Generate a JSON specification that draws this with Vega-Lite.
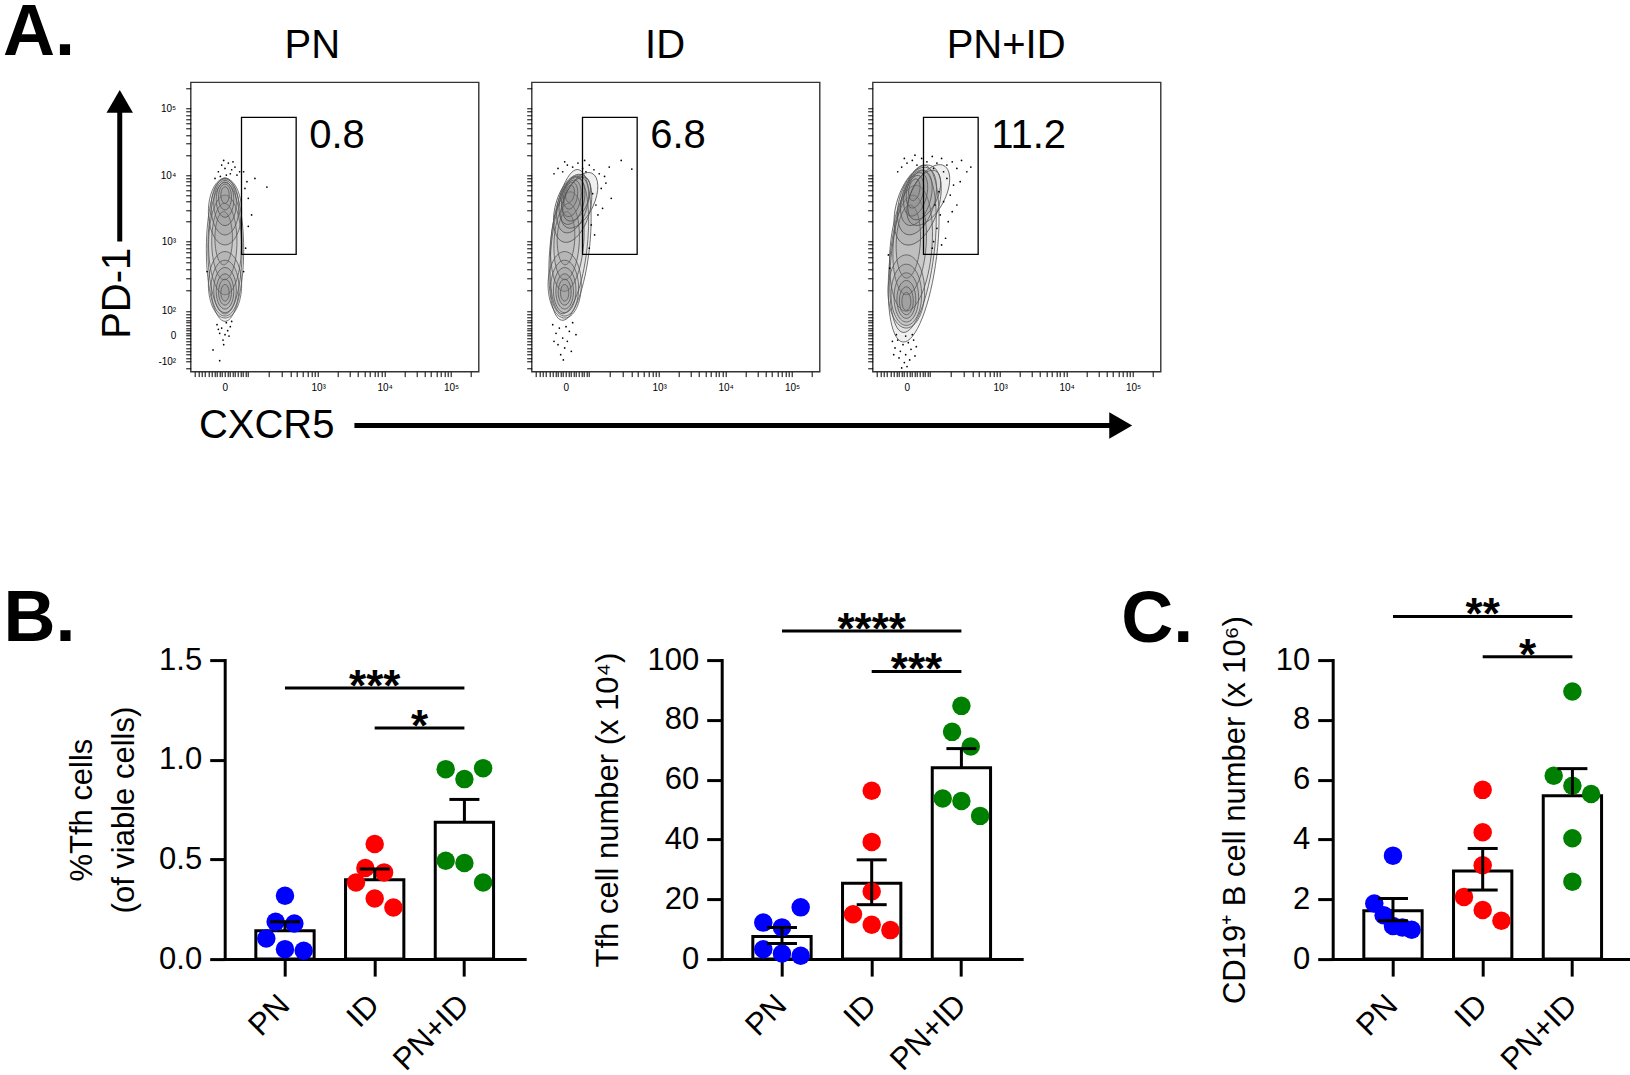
{
"$schema": "https://vega.github.io/schema/vega-lite/v6.json",
"background": "white",
"padding": {"left": 1.7, "top": -4.7, "right": 0, "bottom": 0},
"spacing": 134.8,
"config": {
  "view": {"stroke": null},
  "font": "Liberation Sans",
  "axis": {"grid": false, "domainColor": "black", "tickColor": "black", "labelColor": "black", "titleColor": "black", "labelFont": "Liberation Sans", "titleFont": "Liberation Sans", "titleFontWeight": "normal"},
  "text": {"font": "Liberation Sans", "color": "black"},
  "title": {"font": "Liberation Sans", "color": "black"}
},
"datasets": {
  "flow": [
    {"p":"PN","t":"g","x":1.848,"x2":2.67,"y":2.809,"y2":4.869,"pct":"0.8"},
    {"p":"ID","t":"g","x":1.848,"x2":2.67,"y":2.809,"y2":4.869,"pct":"6.8"},
    {"p":"PN+ID","t":"g","x":1.848,"x2":2.67,"y":2.809,"y2":4.869,"pct":"11.2"},

    {"p":"PN","t":"c","k":"o","x":1.60,"y":2.88,"h":2.16,"a":0},
    {"p":"PN","t":"c","k":"o","x":1.60,"y":2.90,"h":1.98,"a":0},
    {"p":"PN","t":"c","k":"m","x":1.60,"y":2.95,"h":1.5,"a":0},
    {"p":"PN","t":"c","k":"m","x":1.59,"y":3.0,"h":1.15,"a":0},
    {"p":"PN","t":"c","k":"m","x":1.58,"y":3.05,"h":0.8,"a":0},
    {"p":"PN","t":"c","k":"l","x":1.60,"y":3.45,"h":1.0,"a":0},
    {"p":"PN","t":"c","k":"l","x":1.60,"y":3.52,"h":0.84,"a":0},
    {"p":"PN","t":"c","k":"l","x":1.60,"y":3.58,"h":0.68,"a":0},
    {"p":"PN","t":"c","k":"l","x":1.60,"y":3.63,"h":0.53,"a":0},
    {"p":"PN","t":"c","k":"l","x":1.60,"y":3.67,"h":0.39,"a":0},
    {"p":"PN","t":"c","k":"l","x":1.60,"y":3.70,"h":0.25,"a":0},
    {"p":"PN","t":"c","k":"l","x":1.60,"y":2.35,"h":1.0,"a":0},
    {"p":"PN","t":"c","k":"l","x":1.60,"y":2.30,"h":0.84,"a":0},
    {"p":"PN","t":"c","k":"l","x":1.60,"y":2.27,"h":0.68,"a":0},
    {"p":"PN","t":"c","k":"l","x":1.60,"y":2.25,"h":0.53,"a":0},
    {"p":"PN","t":"c","k":"l","x":1.60,"y":2.24,"h":0.39,"a":0},
    {"p":"PN","t":"c","k":"l","x":1.60,"y":2.23,"h":0.25,"a":0},

    {"p":"ID","t":"c","k":"o","x":1.66,"y":2.95,"h":2.28,"a":6},
    {"p":"ID","t":"c","k":"o","x":1.65,"y":2.95,"h":2.08,"a":6},
    {"p":"ID","t":"c","k":"m","x":1.62,"y":3.0,"h":1.5,"a":4},
    {"p":"ID","t":"c","k":"m","x":1.61,"y":3.0,"h":1.15,"a":3},
    {"p":"ID","t":"c","k":"m","x":1.60,"y":3.05,"h":0.8,"a":2},
    {"p":"ID","t":"c","k":"l","x":1.70,"y":3.50,"h":1.05,"a":15},
    {"p":"ID","t":"c","k":"l","x":1.70,"y":3.56,"h":0.88,"a":15},
    {"p":"ID","t":"c","k":"l","x":1.69,"y":3.61,"h":0.72,"a":14},
    {"p":"ID","t":"c","k":"l","x":1.68,"y":3.65,"h":0.56,"a":12},
    {"p":"ID","t":"c","k":"l","x":1.67,"y":3.69,"h":0.41,"a":10},
    {"p":"ID","t":"c","k":"l","x":1.66,"y":3.72,"h":0.26,"a":8},
    {"p":"ID","t":"c","k":"l","x":1.80,"y":3.62,"h":0.9,"a":25},
    {"p":"ID","t":"c","k":"l","x":1.76,"y":3.64,"h":0.7,"a":22},
    {"p":"ID","t":"c","k":"l","x":1.58,"y":2.35,"h":1.0,"a":0},
    {"p":"ID","t":"c","k":"l","x":1.58,"y":2.30,"h":0.84,"a":0},
    {"p":"ID","t":"c","k":"l","x":1.58,"y":2.27,"h":0.68,"a":0},
    {"p":"ID","t":"c","k":"l","x":1.58,"y":2.25,"h":0.53,"a":0},
    {"p":"ID","t":"c","k":"l","x":1.58,"y":2.24,"h":0.39,"a":0},
    {"p":"ID","t":"c","k":"l","x":1.58,"y":2.23,"h":0.25,"a":0},

    {"p":"PN+ID","t":"c","k":"o","x":1.70,"y":2.82,"h":2.68,"a":7},
    {"p":"PN+ID","t":"c","k":"o","x":1.69,"y":2.85,"h":2.45,"a":7},
    {"p":"PN+ID","t":"c","k":"m","x":1.66,"y":2.9,"h":1.9,"a":5},
    {"p":"PN+ID","t":"c","k":"m","x":1.64,"y":2.95,"h":1.5,"a":4},
    {"p":"PN+ID","t":"c","k":"m","x":1.62,"y":3.0,"h":1.1,"a":3},
    {"p":"PN+ID","t":"c","k":"l","x":1.76,"y":3.55,"h":1.25,"a":18},
    {"p":"PN+ID","t":"c","k":"l","x":1.75,"y":3.61,"h":1.05,"a":17},
    {"p":"PN+ID","t":"c","k":"l","x":1.74,"y":3.66,"h":0.86,"a":16},
    {"p":"PN+ID","t":"c","k":"l","x":1.73,"y":3.71,"h":0.67,"a":14},
    {"p":"PN+ID","t":"c","k":"l","x":1.72,"y":3.75,"h":0.5,"a":12},
    {"p":"PN+ID","t":"c","k":"l","x":1.71,"y":3.78,"h":0.33,"a":10},
    {"p":"PN+ID","t":"c","k":"l","x":1.92,"y":3.70,"h":1.0,"a":28},
    {"p":"PN+ID","t":"c","k":"l","x":1.86,"y":3.70,"h":0.8,"a":25},
    {"p":"PN+ID","t":"c","k":"l","x":1.59,"y":2.25,"h":1.1,"a":0},
    {"p":"PN+ID","t":"c","k":"l","x":1.59,"y":2.20,"h":0.92,"a":0},
    {"p":"PN+ID","t":"c","k":"l","x":1.59,"y":2.16,"h":0.74,"a":0},
    {"p":"PN+ID","t":"c","k":"l","x":1.59,"y":2.13,"h":0.57,"a":0},
    {"p":"PN+ID","t":"c","k":"l","x":1.59,"y":2.11,"h":0.42,"a":0},
    {"p":"PN+ID","t":"c","k":"l","x":1.59,"y":2.10,"h":0.27,"a":0},

    {"p":"PN","t":"d","x":1.50,"y":4.05},{"p":"PN","t":"d","x":1.55,"y":4.15},{"p":"PN","t":"d","x":1.60,"y":4.10},
    {"p":"PN","t":"d","x":1.65,"y":4.18},{"p":"PN","t":"d","x":1.70,"y":4.08},{"p":"PN","t":"d","x":1.75,"y":4.12},
    {"p":"PN","t":"d","x":1.58,"y":4.22},{"p":"PN","t":"d","x":1.68,"y":4.02},{"p":"PN","t":"d","x":1.78,"y":4.00},
    {"p":"PN","t":"d","x":1.53,"y":3.98},{"p":"PN","t":"d","x":1.72,"y":4.20},{"p":"PN","t":"d","x":1.62,"y":4.00},
    {"p":"PN","t":"d","x":1.45,"y":3.95},{"p":"PN","t":"d","x":1.82,"y":4.05},
    {"p":"PN","t":"d","x":1.90,"y":3.80},{"p":"PN","t":"d","x":2.05,"y":3.95},{"p":"PN","t":"d","x":2.23,"y":3.82},
    {"p":"PN","t":"d","x":1.95,"y":3.65},{"p":"PN","t":"d","x":2.00,"y":3.40},{"p":"PN","t":"d","x":1.95,"y":3.23},
    {"p":"PN","t":"d","x":1.91,"y":2.90},{"p":"PN","t":"d","x":1.88,"y":4.05},{"p":"PN","t":"d","x":1.93,"y":3.90},
    {"p":"PN","t":"d","x":1.48,"y":1.75},{"p":"PN","t":"d","x":1.55,"y":1.70},{"p":"PN","t":"d","x":1.62,"y":1.78},
    {"p":"PN","t":"d","x":1.68,"y":1.72},{"p":"PN","t":"d","x":1.52,"y":1.62},{"p":"PN","t":"d","x":1.60,"y":1.60},
    {"p":"PN","t":"d","x":1.66,"y":1.58},{"p":"PN","t":"d","x":1.57,"y":1.52},{"p":"PN","t":"d","x":1.50,"y":1.68},
    {"p":"PN","t":"d","x":1.64,"y":1.66},{"p":"PN","t":"d","x":1.58,"y":1.45},{"p":"PN","t":"d","x":1.70,"y":1.80},
    {"p":"PN","t":"d","x":1.42,"y":1.37},{"p":"PN","t":"d","x":1.52,"y":1.21},{"p":"PN","t":"d","x":1.33,"y":2.55},
    {"p":"PN","t":"d","x":1.88,"y":2.55},

    {"p":"ID","t":"d","x":1.42,"y":4.02},{"p":"ID","t":"d","x":1.48,"y":4.10},{"p":"ID","t":"d","x":1.55,"y":4.05},
    {"p":"ID","t":"d","x":1.62,"y":4.15},{"p":"ID","t":"d","x":1.70,"y":4.12},{"p":"ID","t":"d","x":1.78,"y":4.18},
    {"p":"ID","t":"d","x":1.85,"y":4.10},{"p":"ID","t":"d","x":1.90,"y":4.05},{"p":"ID","t":"d","x":1.95,"y":4.15},
    {"p":"ID","t":"d","x":2.02,"y":4.08},{"p":"ID","t":"d","x":2.10,"y":4.02},{"p":"ID","t":"d","x":2.18,"y":3.98},
    {"p":"ID","t":"d","x":2.25,"y":4.12},{"p":"ID","t":"d","x":1.58,"y":4.20},{"p":"ID","t":"d","x":1.88,"y":4.22},
    {"p":"ID","t":"d","x":2.43,"y":4.22},{"p":"ID","t":"d","x":2.59,"y":4.09},
    {"p":"ID","t":"d","x":2.13,"y":3.80},{"p":"ID","t":"d","x":2.28,"y":3.65},{"p":"ID","t":"d","x":2.08,"y":3.40},
    {"p":"ID","t":"d","x":2.03,"y":3.10},{"p":"ID","t":"d","x":1.95,"y":2.90},{"p":"ID","t":"d","x":2.05,"y":3.55},
    {"p":"ID","t":"d","x":2.15,"y":3.50},{"p":"ID","t":"d","x":1.98,"y":3.25},{"p":"ID","t":"d","x":2.00,"y":3.72},
    {"p":"ID","t":"d","x":2.20,"y":3.88},
    {"p":"ID","t":"d","x":1.40,"y":1.75},{"p":"ID","t":"d","x":1.45,"y":1.62},{"p":"ID","t":"d","x":1.50,"y":1.70},
    {"p":"ID","t":"d","x":1.55,"y":1.55},{"p":"ID","t":"d","x":1.60,"y":1.72},{"p":"ID","t":"d","x":1.65,"y":1.65},
    {"p":"ID","t":"d","x":1.70,"y":1.78},{"p":"ID","t":"d","x":1.48,"y":1.45},{"p":"ID","t":"d","x":1.58,"y":1.40},
    {"p":"ID","t":"d","x":1.52,"y":1.30},{"p":"ID","t":"d","x":1.62,"y":1.50},{"p":"ID","t":"d","x":1.68,"y":1.35},
    {"p":"ID","t":"d","x":1.56,"y":1.22},{"p":"ID","t":"d","x":1.42,"y":1.50},{"p":"ID","t":"d","x":1.75,"y":1.60},

    {"p":"PN+ID","t":"d","x":1.46,"y":4.05},{"p":"PN+ID","t":"d","x":1.52,"y":4.12},{"p":"PN+ID","t":"d","x":1.60,"y":4.18},
    {"p":"PN+ID","t":"d","x":1.68,"y":4.22},{"p":"PN+ID","t":"d","x":1.75,"y":4.15},{"p":"PN+ID","t":"d","x":1.82,"y":4.25},
    {"p":"PN+ID","t":"d","x":1.90,"y":4.20},{"p":"PN+ID","t":"d","x":1.98,"y":4.28},{"p":"PN+ID","t":"d","x":2.05,"y":4.18},
    {"p":"PN+ID","t":"d","x":2.12,"y":4.25},{"p":"PN+ID","t":"d","x":2.20,"y":4.15},{"p":"PN+ID","t":"d","x":2.28,"y":4.20},
    {"p":"PN+ID","t":"d","x":2.35,"y":4.10},{"p":"PN+ID","t":"d","x":2.42,"y":4.22},{"p":"PN+ID","t":"d","x":2.50,"y":4.05},
    {"p":"PN+ID","t":"d","x":2.56,"y":4.12},{"p":"PN+ID","t":"d","x":1.56,"y":4.25},{"p":"PN+ID","t":"d","x":2.00,"y":4.10},
    {"p":"PN+ID","t":"d","x":2.15,"y":4.05},{"p":"PN+ID","t":"d","x":1.72,"y":4.30},
    {"p":"PN+ID","t":"d","x":2.20,"y":3.95},{"p":"PN+ID","t":"d","x":2.30,"y":3.85},{"p":"PN+ID","t":"d","x":2.25,"y":3.70},
    {"p":"PN+ID","t":"d","x":2.15,"y":3.60},{"p":"PN+ID","t":"d","x":2.35,"y":3.55},{"p":"PN+ID","t":"d","x":2.10,"y":3.40},
    {"p":"PN+ID","t":"d","x":2.22,"y":3.30},{"p":"PN+ID","t":"d","x":2.05,"y":3.20},{"p":"PN+ID","t":"d","x":2.18,"y":3.05},
    {"p":"PN+ID","t":"d","x":2.00,"y":3.00},{"p":"PN+ID","t":"d","x":1.98,"y":2.90},{"p":"PN+ID","t":"d","x":2.12,"y":2.95},
    {"p":"PN+ID","t":"d","x":2.40,"y":3.90},{"p":"PN+ID","t":"d","x":2.28,"y":3.45},{"p":"PN+ID","t":"d","x":2.08,"y":3.75},
    {"p":"PN+ID","t":"d","x":2.02,"y":3.55},
    {"p":"PN+ID","t":"d","x":1.38,"y":1.50},{"p":"PN+ID","t":"d","x":1.42,"y":1.40},{"p":"PN+ID","t":"d","x":1.46,"y":1.52},
    {"p":"PN+ID","t":"d","x":1.50,"y":1.35},{"p":"PN+ID","t":"d","x":1.54,"y":1.45},{"p":"PN+ID","t":"d","x":1.58,"y":1.30},
    {"p":"PN+ID","t":"d","x":1.62,"y":1.48},{"p":"PN+ID","t":"d","x":1.66,"y":1.38},{"p":"PN+ID","t":"d","x":1.70,"y":1.52},
    {"p":"PN+ID","t":"d","x":1.74,"y":1.42},{"p":"PN+ID","t":"d","x":1.48,"y":1.25},{"p":"PN+ID","t":"d","x":1.56,"y":1.18},
    {"p":"PN+ID","t":"d","x":1.64,"y":1.22},{"p":"PN+ID","t":"d","x":1.52,"y":1.10},{"p":"PN+ID","t":"d","x":1.60,"y":1.12},
    {"p":"PN+ID","t":"d","x":1.44,"y":1.60},{"p":"PN+ID","t":"d","x":1.68,"y":1.60},{"p":"PN+ID","t":"d","x":1.58,"y":1.58},
    {"p":"PN+ID","t":"d","x":1.72,"y":1.28},{"p":"PN+ID","t":"d","x":1.40,"y":1.30},
    {"p":"PN+ID","t":"d","x":1.32,"y":2.80},{"p":"PN+ID","t":"d","x":1.34,"y":2.60}
  ],
  "pts": [
    {"m":"pct","g":"PN","v":0.318,"c":0},{"m":"pct","g":"PN","v":0.187,"c":-0.5},{"m":"pct","g":"PN","v":0.179,"c":0.5},
    {"m":"pct","g":"PN","v":0.103,"c":-1},{"m":"pct","g":"PN","v":0.050,"c":0},{"m":"pct","g":"PN","v":0.042,"c":1},
    {"m":"pct","g":"ID","v":0.577,"c":0},{"m":"pct","g":"ID","v":0.457,"c":-0.5},{"m":"pct","g":"ID","v":0.435,"c":0.5},
    {"m":"pct","g":"ID","v":0.384,"c":-1},{"m":"pct","g":"ID","v":0.304,"c":0},{"m":"pct","g":"ID","v":0.259,"c":1},
    {"m":"pct","g":"PN+ID","v":0.953,"c":-1},{"m":"pct","g":"PN+ID","v":0.903,"c":0},{"m":"pct","g":"PN+ID","v":0.958,"c":1},
    {"m":"pct","g":"PN+ID","v":0.493,"c":-1},{"m":"pct","g":"PN+ID","v":0.482,"c":0},{"m":"pct","g":"PN+ID","v":0.384,"c":1},
    {"m":"num","g":"PN","v":17.3,"c":1},{"m":"num","g":"PN","v":12.2,"c":-1},{"m":"num","g":"PN","v":10.6,"c":0},
    {"m":"num","g":"PN","v":3.3,"c":-1},{"m":"num","g":"PN","v":1.9,"c":0},{"m":"num","g":"PN","v":1.1,"c":1},
    {"m":"num","g":"ID","v":56.3,"c":0},{"m":"num","g":"ID","v":39.2,"c":0},{"m":"num","g":"ID","v":22.6,"c":0},
    {"m":"num","g":"ID","v":15.0,"c":-1},{"m":"num","g":"ID","v":11.5,"c":0},{"m":"num","g":"ID","v":9.7,"c":1},
    {"m":"num","g":"PN+ID","v":84.7,"c":0},{"m":"num","g":"PN+ID","v":76.0,"c":-0.5},{"m":"num","g":"PN+ID","v":71.1,"c":0.5},
    {"m":"num","g":"PN+ID","v":53.7,"c":-1},{"m":"num","g":"PN+ID","v":52.9,"c":0},{"m":"num","g":"PN+ID","v":47.9,"c":1},
    {"m":"cd19","g":"PN","v":3.46,"c":0},{"m":"cd19","g":"PN","v":1.86,"c":-1},{"m":"cd19","g":"PN","v":1.47,"c":-0.5},
    {"m":"cd19","g":"PN","v":1.11,"c":0},{"m":"cd19","g":"PN","v":1.06,"c":0.5},{"m":"cd19","g":"PN","v":0.98,"c":1},
    {"m":"cd19","g":"ID","v":5.66,"c":0},{"m":"cd19","g":"ID","v":4.24,"c":0},{"m":"cd19","g":"ID","v":3.14,"c":0},
    {"m":"cd19","g":"ID","v":2.08,"c":-1},{"m":"cd19","g":"ID","v":1.64,"c":0},{"m":"cd19","g":"ID","v":1.28,"c":1},
    {"m":"cd19","g":"PN+ID","v":8.95,"c":0},{"m":"cd19","g":"PN+ID","v":6.13,"c":-1},{"m":"cd19","g":"PN+ID","v":5.80,"c":0},
    {"m":"cd19","g":"PN+ID","v":5.52,"c":1},{"m":"cd19","g":"PN+ID","v":4.04,"c":0},{"m":"cd19","g":"PN+ID","v":2.59,"c":0}
  ],
  "bars": [
    {"m":"pct","g":"PN","mean":0.142,"lo":0.142,"hi":0.187,"lc":false},
    {"m":"pct","g":"ID","mean":0.398,"lo":0.398,"hi":0.452,"lc":false},
    {"m":"pct","g":"PN+ID","mean":0.686,"lo":0.686,"hi":0.801,"lc":false},
    {"m":"num","g":"PN","mean":7.57,"lo":5.23,"hi":10.57,"lc":true},
    {"m":"num","g":"ID","mean":25.4,"lo":18.2,"hi":33.2,"lc":true},
    {"m":"num","g":"PN+ID","mean":64.0,"lo":64.0,"hi":70.4,"lc":false},
    {"m":"cd19","g":"PN","mean":1.62,"lo":1.28,"hi":2.03,"lc":true},
    {"m":"cd19","g":"ID","mean":2.95,"lo":2.31,"hi":3.70,"lc":true},
    {"m":"cd19","g":"PN+ID","mean":5.46,"lo":5.46,"hi":6.37,"lc":false}
  ],
  "sig": [
    {"m":"pct","a":"PN","b":"PN+ID","y":1.36,"s":"***","f":"full"},
    {"m":"pct","a":"ID","b":"PN+ID","y":1.159,"s":"*","f":"half"},
    {"m":"num","a":"PN","b":"PN+ID","y":109.7,"s":"****","f":"full"},
    {"m":"num","a":"ID","b":"PN+ID","y":96.2,"s":"***","f":"half"},
    {"m":"cd19","a":"PN","b":"PN+ID","y":11.46,"s":"**","f":"full"},
    {"m":"cd19","a":"ID","b":"PN+ID","y":10.11,"s":"*","f":"half"}
  ]
},
"vconcat": [
  {"hconcat": [
    {
      "width": 288, "height": 289.3,
      "view": {"stroke": "#333333", "strokeWidth": 1.4},
      "data": {"name": "flow"},
      "transform": [{"filter": "datum.p === 'PN'"}],
      "encoding": {
        "x": {"field": "x", "type": "quantitative", "scale": {"domain": [1.084, 5.415], "nice": false, "zero": false},
          "axis": {"title": null, "domain": false, "tickSize": 5, "tickWidth": 1, "labelFontSize": 10, "labelPadding": 6, "labelOverlap": false, "labelFlush": false, "labelBound": false,
            "values": [1.15,1.2,1.25,1.3,1.35,1.4,1.44,1.48,1.52,1.555,1.596,1.635,1.67,1.71,1.75,1.79,1.83,1.87,1.91,1.947,2.264,2.449,2.581,2.683,2.767,2.837,2.898,2.951,3,3.301,3.477,3.602,3.699,3.778,3.845,3.903,3.954,4,4.301,4.477,4.602,4.699,4.778,4.845,4.903,4.954,5,5.301],
            "labelExpr": "datum.value == 1.596 ? '0' : datum.value == 3 ? '10³' : datum.value == 4 ? '10⁴' : datum.value == 5 ? '10⁵' : ''"}},
        "y": {"field": "y", "type": "quantitative", "scale": {"domain": [1.045, 5.395], "nice": false, "zero": false},
          "axis": {"title": null, "domain": false, "tickSize": 5, "tickWidth": 1, "labelFontSize": 10, "labelPadding": 10, "labelOverlap": false, "labelFlush": false, "labelBound": false,
            "values": [1.1,1.195,1.25,1.3,1.35,1.4,1.45,1.5,1.55,1.586,1.62,1.66,1.7,1.74,1.78,1.82,1.86,1.9,1.958,2.272,2.455,2.585,2.686,2.769,2.838,2.899,2.952,3,3.301,3.477,3.602,3.699,3.778,3.845,3.903,3.954,4,4.301,4.477,4.602,4.699,4.778,4.845,4.903,4.954,5,5.301],
            "labelExpr": "datum.value == 5 ? '10⁵' : datum.value == 4 ? '10⁴' : datum.value == 3 ? '10³' : datum.value == 1.958 ? '10²' : datum.value == 1.586 ? '0' : datum.value == 1.195 ? '-10²' : ''"}}
      },
      "layer": [
        {"transform": [{"filter": "datum.t === 'c'"}],
         "mark": {"type": "point", "filled": true, "fill": "#7a7a7a", "fillOpacity": 0.12, "stroke": "#555555", "strokeWidth": 0.8, "opacity": 1},
         "encoding": {
           "shape": {"field": "k", "type": "nominal", "legend": null, "scale": {"domain": ["o","m","l"], "range": [
             "M0,-1C0.144,-1,0.26,-0.552,0.26,0C0.26,0.552,0.144,1,0,1C-0.144,1,-0.26,0.552,-0.26,0C-0.26,-0.552,-0.144,-1,0,-1Z",
             "M0,-1C0.182,-1,0.33,-0.552,0.33,0C0.33,0.552,0.182,1,0,1C-0.182,1,-0.33,0.552,-0.33,0C-0.33,-0.552,-0.182,-1,0,-1Z",
             "M0,-1C0.276,-1,0.5,-0.552,0.5,0C0.5,0.552,0.276,1,0,1C-0.276,1,-0.5,0.552,-0.5,0C-0.5,-0.552,-0.276,-1,0,-1Z"]}},
           "size": {"field": "h", "type": "quantitative", "legend": null, "scale": {"type": "pow", "exponent": 2, "domain": [0, 1], "range": [0, 4422]}},
           "angle": {"field": "a", "type": "quantitative", "scale": null}
         }},
        {"transform": [{"filter": "datum.t === 'd'"}], "mark": {"type": "point", "filled": true, "size": 3, "color": "black", "opacity": 1}},
        {"transform": [{"filter": "datum.t === 'g'"}], "mark": {"type": "rect", "fill": "white", "fillOpacity": 0, "stroke": "black", "strokeWidth": 1.3},
         "encoding": {"x2": {"field": "x2"}, "y2": {"field": "y2"}}},
        {"transform": [{"filter": "datum.t === 'g'"}], "mark": {"type": "text", "fontSize": 40, "align": "left", "baseline": "middle", "dx": 13, "dy": 19},
         "encoding": {"x": {"field": "x2", "type": "quantitative"}, "y": {"field": "y2", "type": "quantitative"}, "text": {"field": "pct"}}},
        {"transform": [{"filter": "datum.t === 'g'"}], "mark": {"type": "text", "fontSize": 40, "align": "center", "baseline": "alphabetic"},
         "encoding": {"x": {"datum": 2.914, "type": "quantitative"}, "y": {"datum": 5.767, "type": "quantitative"}, "text": {"field": "p"}}},
        {"transform": [{"filter": "datum.t === 'g'"}], "mark": {"type": "text", "fontSize": 72, "fontWeight": "bold", "align": "left", "baseline": "alphabetic"},
         "encoding": {"x": {"datum": -1.737, "type": "quantitative"}, "y": {"datum": 5.808, "type": "quantitative"}, "text": {"value": "A."}}},
        {"transform": [{"filter": "datum.t === 'g'"}], "mark": {"type": "text", "fontSize": 40, "angle": 270, "align": "center", "baseline": "middle"},
         "encoding": {"x": {"datum": -0.008, "type": "quantitative"}, "y": {"datum": 2.223, "type": "quantitative"}, "text": {"value": "PD-1"}}},
        {"transform": [{"filter": "datum.t === 'g'"}], "mark": {"type": "rule", "strokeWidth": 5, "color": "black"},
         "encoding": {"x": {"datum": 0.017, "type": "quantitative"}, "y": {"datum": 3.0, "type": "quantitative"}, "y2": {"datum": 5.06}}},
        {"transform": [{"filter": "datum.t === 'g'"}], "mark": {"type": "point", "shape": "triangle-up", "size": 700, "filled": true, "color": "black", "opacity": 1},
         "encoding": {"x": {"datum": 0.017, "type": "quantitative"}, "y": {"datum": 5.108, "type": "quantitative"}}},
        {"transform": [{"filter": "datum.t === 'g'"}], "mark": {"type": "text", "fontSize": 40, "align": "left", "baseline": "middle"},
         "encoding": {"x": {"datum": 1.208, "type": "quantitative"}, "y": {"datum": 0.233, "type": "quantitative"}, "text": {"value": "CXCR5"}}},
        {"transform": [{"filter": "datum.t === 'g'"}], "mark": {"type": "rule", "strokeWidth": 5, "color": "black"},
         "encoding": {"x": {"datum": 3.546, "type": "quantitative"}, "x2": {"datum": 15.0}, "y": {"datum": 0.233, "type": "quantitative"}}},
        {"transform": [{"filter": "datum.t === 'g'"}], "mark": {"type": "point", "shape": "triangle-right", "size": 700, "filled": true, "color": "black", "opacity": 1},
         "encoding": {"x": {"datum": 15.07, "type": "quantitative"}, "y": {"datum": 0.233, "type": "quantitative"}}}
      ]
    },
    {
      "width": 288, "height": 289.3,
      "view": {"stroke": "#333333", "strokeWidth": 1.4},
      "data": {"name": "flow"},
      "transform": [{"filter": "datum.p === 'ID'"}],
      "encoding": {
        "x": {"field": "x", "type": "quantitative", "scale": {"domain": [1.084, 5.415], "nice": false, "zero": false},
          "axis": {"title": null, "domain": false, "tickSize": 5, "tickWidth": 1, "labelFontSize": 10, "labelPadding": 6, "labelOverlap": false, "labelFlush": false, "labelBound": false,
            "values": [1.15,1.2,1.25,1.3,1.35,1.4,1.44,1.48,1.52,1.555,1.596,1.635,1.67,1.71,1.75,1.79,1.83,1.87,1.91,1.947,2.264,2.449,2.581,2.683,2.767,2.837,2.898,2.951,3,3.301,3.477,3.602,3.699,3.778,3.845,3.903,3.954,4,4.301,4.477,4.602,4.699,4.778,4.845,4.903,4.954,5,5.301],
            "labelExpr": "datum.value == 1.596 ? '0' : datum.value == 3 ? '10³' : datum.value == 4 ? '10⁴' : datum.value == 5 ? '10⁵' : ''"}},
        "y": {"field": "y", "type": "quantitative", "scale": {"domain": [1.045, 5.395], "nice": false, "zero": false},
          "axis": {"title": null, "domain": false, "tickSize": 5, "tickWidth": 1, "labels": false,
            "values": [1.1,1.195,1.25,1.3,1.35,1.4,1.45,1.5,1.55,1.586,1.62,1.66,1.7,1.74,1.78,1.82,1.86,1.9,1.958,2.272,2.455,2.585,2.686,2.769,2.838,2.899,2.952,3,3.301,3.477,3.602,3.699,3.778,3.845,3.903,3.954,4,4.301,4.477,4.602,4.699,4.778,4.845,4.903,4.954,5,5.301]}}
      },
      "layer": [
        {"transform": [{"filter": "datum.t === 'c'"}],
         "mark": {"type": "point", "filled": true, "fill": "#7a7a7a", "fillOpacity": 0.12, "stroke": "#555555", "strokeWidth": 0.8, "opacity": 1},
         "encoding": {
           "shape": {"field": "k", "type": "nominal", "legend": null, "scale": {"domain": ["o","m","l"], "range": [
             "M0,-1C0.144,-1,0.26,-0.552,0.26,0C0.26,0.552,0.144,1,0,1C-0.144,1,-0.26,0.552,-0.26,0C-0.26,-0.552,-0.144,-1,0,-1Z",
             "M0,-1C0.182,-1,0.33,-0.552,0.33,0C0.33,0.552,0.182,1,0,1C-0.182,1,-0.33,0.552,-0.33,0C-0.33,-0.552,-0.182,-1,0,-1Z",
             "M0,-1C0.276,-1,0.5,-0.552,0.5,0C0.5,0.552,0.276,1,0,1C-0.276,1,-0.5,0.552,-0.5,0C-0.5,-0.552,-0.276,-1,0,-1Z"]}},
           "size": {"field": "h", "type": "quantitative", "legend": null, "scale": {"type": "pow", "exponent": 2, "domain": [0, 1], "range": [0, 4422]}},
           "angle": {"field": "a", "type": "quantitative", "scale": null}
         }},
        {"transform": [{"filter": "datum.t === 'd'"}], "mark": {"type": "point", "filled": true, "size": 3, "color": "black", "opacity": 1}},
        {"transform": [{"filter": "datum.t === 'g'"}], "mark": {"type": "rect", "fill": "white", "fillOpacity": 0, "stroke": "black", "strokeWidth": 1.3},
         "encoding": {"x2": {"field": "x2"}, "y2": {"field": "y2"}}},
        {"transform": [{"filter": "datum.t === 'g'"}], "mark": {"type": "text", "fontSize": 40, "align": "left", "baseline": "middle", "dx": 13, "dy": 19},
         "encoding": {"x": {"field": "x2", "type": "quantitative"}, "y": {"field": "y2", "type": "quantitative"}, "text": {"field": "pct"}}},
        {"transform": [{"filter": "datum.t === 'g'"}], "mark": {"type": "text", "fontSize": 40, "align": "center", "baseline": "alphabetic"},
         "encoding": {"x": {"datum": 3.09, "type": "quantitative"}, "y": {"datum": 5.767, "type": "quantitative"}, "text": {"field": "p"}}}
      ]
    },
    {
      "width": 288, "height": 289.3,
      "view": {"stroke": "#333333", "strokeWidth": 1.4},
      "data": {"name": "flow"},
      "transform": [{"filter": "datum.p === 'PN+ID'"}],
      "encoding": {
        "x": {"field": "x", "type": "quantitative", "scale": {"domain": [1.084, 5.415], "nice": false, "zero": false},
          "axis": {"title": null, "domain": false, "tickSize": 5, "tickWidth": 1, "labelFontSize": 10, "labelPadding": 6, "labelOverlap": false, "labelFlush": false, "labelBound": false,
            "values": [1.15,1.2,1.25,1.3,1.35,1.4,1.44,1.48,1.52,1.555,1.596,1.635,1.67,1.71,1.75,1.79,1.83,1.87,1.91,1.947,2.264,2.449,2.581,2.683,2.767,2.837,2.898,2.951,3,3.301,3.477,3.602,3.699,3.778,3.845,3.903,3.954,4,4.301,4.477,4.602,4.699,4.778,4.845,4.903,4.954,5,5.301],
            "labelExpr": "datum.value == 1.596 ? '0' : datum.value == 3 ? '10³' : datum.value == 4 ? '10⁴' : datum.value == 5 ? '10⁵' : ''"}},
        "y": {"field": "y", "type": "quantitative", "scale": {"domain": [1.045, 5.395], "nice": false, "zero": false},
          "axis": {"title": null, "domain": false, "tickSize": 5, "tickWidth": 1, "labels": false,
            "values": [1.1,1.195,1.25,1.3,1.35,1.4,1.45,1.5,1.55,1.586,1.62,1.66,1.7,1.74,1.78,1.82,1.86,1.9,1.958,2.272,2.455,2.585,2.686,2.769,2.838,2.899,2.952,3,3.301,3.477,3.602,3.699,3.778,3.845,3.903,3.954,4,4.301,4.477,4.602,4.699,4.778,4.845,4.903,4.954,5,5.301]}}
      },
      "layer": [
        {"transform": [{"filter": "datum.t === 'c'"}],
         "mark": {"type": "point", "filled": true, "fill": "#7a7a7a", "fillOpacity": 0.12, "stroke": "#555555", "strokeWidth": 0.8, "opacity": 1},
         "encoding": {
           "shape": {"field": "k", "type": "nominal", "legend": null, "scale": {"domain": ["o","m","l"], "range": [
             "M0,-1C0.144,-1,0.26,-0.552,0.26,0C0.26,0.552,0.144,1,0,1C-0.144,1,-0.26,0.552,-0.26,0C-0.26,-0.552,-0.144,-1,0,-1Z",
             "M0,-1C0.182,-1,0.33,-0.552,0.33,0C0.33,0.552,0.182,1,0,1C-0.182,1,-0.33,0.552,-0.33,0C-0.33,-0.552,-0.182,-1,0,-1Z",
             "M0,-1C0.276,-1,0.5,-0.552,0.5,0C0.5,0.552,0.276,1,0,1C-0.276,1,-0.5,0.552,-0.5,0C-0.5,-0.552,-0.276,-1,0,-1Z"]}},
           "size": {"field": "h", "type": "quantitative", "legend": null, "scale": {"type": "pow", "exponent": 2, "domain": [0, 1], "range": [0, 4422]}},
           "angle": {"field": "a", "type": "quantitative", "scale": null}
         }},
        {"transform": [{"filter": "datum.t === 'd'"}], "mark": {"type": "point", "filled": true, "size": 3, "color": "black", "opacity": 1}},
        {"transform": [{"filter": "datum.t === 'g'"}], "mark": {"type": "rect", "fill": "white", "fillOpacity": 0, "stroke": "black", "strokeWidth": 1.3},
         "encoding": {"x2": {"field": "x2"}, "y2": {"field": "y2"}}},
        {"transform": [{"filter": "datum.t === 'g'"}], "mark": {"type": "text", "fontSize": 40, "align": "left", "baseline": "middle", "dx": 13, "dy": 19},
         "encoding": {"x": {"field": "x2", "type": "quantitative"}, "y": {"field": "y2", "type": "quantitative"}, "text": {"field": "pct"}}},
        {"transform": [{"filter": "datum.t === 'g'"}], "mark": {"type": "text", "fontSize": 40, "align": "center", "baseline": "alphabetic"},
         "encoding": {"x": {"datum": 3.09, "type": "quantitative"}, "y": {"datum": 5.767, "type": "quantitative"}, "text": {"field": "p"}}}
      ]
    }
  ], "spacing": 53, "bounds": "flush"},
  {"hconcat": [
    {"width": 33.4, "height": 10, "data": {"values": [{"z": 0}]}, "mark": {"type": "point", "opacity": 0}, "encoding": {}},
    {
      "width": 300, "height": 299,
      "resolve": {"scale": {"xOffset": "independent"}},
      "layer": [
        {"data": {"name": "bars"}, "transform": [{"filter": "datum.m === 'pct'"}],
         "mark": {"type": "bar", "fill": "white", "stroke": "black", "strokeWidth": 3},
         "encoding": {
           "x": {"field": "g", "type": "nominal", "scale": {"type": "band", "domain": ["PN","ID","PN+ID"], "paddingInner": 0.35, "paddingOuter": 0.347},
             "axis": {"title": null, "labelAngle": -45, "labelAlign": "right", "labelBaseline": "middle", "labelFontSize": 31, "labelPadding": 24, "labelOffset": 0, "tickSize": 17, "tickWidth": 3, "domainWidth": 3, "domainCap": "square"}},
           "y": {"field": "mean", "type": "quantitative", "scale": {"domain": [0, 1.5], "nice": false},
             "axis": {"title": ["%Tfh cells", "(of viable cells)"], "values": [0, 0.5, 1, 1.5], "format": ".1f", "labelFontSize": 31, "labelPadding": 8, "tickSize": 15, "tickWidth": 3, "domainWidth": 3, "domainCap": "square", "titleFontSize": 31, "titleLineHeight": 42, "titlePadding": 18}}
         }},
        {"data": {"name": "pts"}, "transform": [{"filter": "datum.m === 'pct'"}],
         "mark": {"type": "point", "filled": true, "opacity": 1},
         "encoding": {
           "x": {"field": "g", "type": "nominal", "scale": {"type": "band", "domain": ["PN","ID","PN+ID"], "paddingInner": 0.35, "paddingOuter": 0.347}},
           "xOffset": {"field": "c", "type": "quantitative", "scale": {"domain": [-1.559, 1.559], "nice": false, "zero": false}},
           "y": {"field": "v", "type": "quantitative"},
           "color": {"field": "g", "type": "nominal", "scale": {"domain": ["PN","ID","PN+ID"], "range": ["#0000ff","#ff0000","#008000"]}, "legend": null},
           "size": {"field": "g", "type": "ordinal", "scale": {"domain": ["PN","ID","PN+ID"], "range": [342, 342, 552]}, "legend": null}
         }},
        {"data": {"name": "bars"}, "transform": [{"filter": "datum.m === 'pct'"}],
         "mark": {"type": "rule", "strokeWidth": 3, "color": "black"},
         "encoding": {"x": {"field": "g", "type": "nominal", "scale": {"type": "band", "domain": ["PN","ID","PN+ID"], "paddingInner": 0.35, "paddingOuter": 0.347}}, "y": {"field": "lo", "type": "quantitative"}, "y2": {"field": "hi"}}},
        {"data": {"name": "bars"}, "transform": [{"filter": "datum.m === 'pct'"}],
         "mark": {"type": "tick", "size": 30, "thickness": 3, "color": "black", "opacity": 1},
         "encoding": {"x": {"field": "g", "type": "nominal", "scale": {"type": "band", "domain": ["PN","ID","PN+ID"], "paddingInner": 0.35, "paddingOuter": 0.347}}, "y": {"field": "hi", "type": "quantitative"}}},
        {"data": {"name": "bars"}, "transform": [{"filter": "datum.m === 'pct' && datum.lc"}],
         "mark": {"type": "tick", "size": 30, "thickness": 3, "color": "black", "opacity": 1},
         "encoding": {"x": {"field": "g", "type": "nominal", "scale": {"type": "band", "domain": ["PN","ID","PN+ID"], "paddingInner": 0.35, "paddingOuter": 0.347}}, "y": {"field": "lo", "type": "quantitative"}}},
        {"data": {"name": "sig"}, "transform": [{"filter": "datum.m === 'pct'"}],
         "mark": {"type": "rule", "strokeWidth": 3, "color": "black"},
         "encoding": {"x": {"field": "a", "type": "nominal", "scale": {"type": "band", "domain": ["PN","ID","PN+ID"], "paddingInner": 0.35, "paddingOuter": 0.347}}, "x2": {"field": "b"}, "y": {"field": "y", "type": "quantitative"}}},
        {"data": {"name": "sig"}, "transform": [{"filter": "datum.m === 'pct' && datum.f === 'full'"}],
         "mark": {"type": "text", "fontSize": 44, "fontWeight": "bold", "align": "center", "baseline": "alphabetic", "dy": 13},
         "encoding": {"x": {"field": "a", "type": "nominal", "bandPosition": 2.039, "scale": {"type": "band", "domain": ["PN","ID","PN+ID"], "paddingInner": 0.35, "paddingOuter": 0.347}}, "y": {"field": "y", "type": "quantitative"}, "text": {"field": "s"}}},
        {"data": {"name": "sig"}, "transform": [{"filter": "datum.m === 'pct' && datum.f === 'half'"}],
         "mark": {"type": "text", "fontSize": 44, "fontWeight": "bold", "align": "center", "baseline": "alphabetic", "dy": 13},
         "encoding": {"x": {"field": "a", "type": "nominal", "bandPosition": 1.269, "scale": {"type": "band", "domain": ["PN","ID","PN+ID"], "paddingInner": 0.35, "paddingOuter": 0.347}}, "y": {"field": "y", "type": "quantitative"}, "text": {"field": "s"}}},
        {"data": {"values": [{"s": "B."}]},
         "mark": {"type": "text", "fontSize": 72, "fontWeight": "bold", "align": "left", "baseline": "alphabetic"},
         "encoding": {"x": {"datum": "PN", "type": "nominal", "bandPosition": -4.325, "scale": {"type": "band", "domain": ["PN","ID","PN+ID"], "paddingInner": 0.35, "paddingOuter": 0.347}}, "y": {"datum": 1.597, "type": "quantitative"}, "text": {"field": "s"}}}
      ]
    },
    {"width": 196.3, "height": 10, "data": {"values": [{"z": 0}]}, "mark": {"type": "point", "opacity": 0}, "encoding": {}},
    {
      "width": 300, "height": 299,
      "resolve": {"scale": {"xOffset": "independent"}},
      "layer": [
        {"data": {"name": "bars"}, "transform": [{"filter": "datum.m === 'num'"}],
         "mark": {"type": "bar", "fill": "white", "stroke": "black", "strokeWidth": 3},
         "encoding": {
           "x": {"field": "g", "type": "nominal", "scale": {"type": "band", "domain": ["PN","ID","PN+ID"], "paddingInner": 0.35, "paddingOuter": 0.347},
             "axis": {"title": null, "labelAngle": -45, "labelAlign": "right", "labelBaseline": "middle", "labelFontSize": 31, "labelPadding": 24, "labelOffset": 0, "tickSize": 17, "tickWidth": 3, "domainWidth": 3, "domainCap": "square"}},
           "y": {"field": "mean", "type": "quantitative", "scale": {"domain": [0, 100], "nice": false},
             "axis": {"title": "Tfh cell number (x 10⁴)", "values": [0, 20, 40, 60, 80, 100], "labelFontSize": 31, "labelPadding": 8, "tickSize": 15, "tickWidth": 3, "domainWidth": 3, "domainCap": "square", "titleFontSize": 31, "titlePadding": 22}}
         }},
        {"data": {"name": "pts"}, "transform": [{"filter": "datum.m === 'num'"}],
         "mark": {"type": "point", "filled": true, "opacity": 1},
         "encoding": {
           "x": {"field": "g", "type": "nominal", "scale": {"type": "band", "domain": ["PN","ID","PN+ID"], "paddingInner": 0.35, "paddingOuter": 0.347}},
           "xOffset": {"field": "c", "type": "quantitative", "scale": {"domain": [-1.559, 1.559], "nice": false, "zero": false}},
           "y": {"field": "v", "type": "quantitative"},
           "color": {"field": "g", "type": "nominal", "scale": {"domain": ["PN","ID","PN+ID"], "range": ["#0000ff","#ff0000","#008000"]}, "legend": null},
           "size": {"field": "g", "type": "ordinal", "scale": {"domain": ["PN","ID","PN+ID"], "range": [342, 342, 552]}, "legend": null}
         }},
        {"data": {"name": "bars"}, "transform": [{"filter": "datum.m === 'num'"}],
         "mark": {"type": "rule", "strokeWidth": 3, "color": "black"},
         "encoding": {"x": {"field": "g", "type": "nominal", "scale": {"type": "band", "domain": ["PN","ID","PN+ID"], "paddingInner": 0.35, "paddingOuter": 0.347}}, "y": {"field": "lo", "type": "quantitative"}, "y2": {"field": "hi"}}},
        {"data": {"name": "bars"}, "transform": [{"filter": "datum.m === 'num'"}],
         "mark": {"type": "tick", "size": 30, "thickness": 3, "color": "black", "opacity": 1},
         "encoding": {"x": {"field": "g", "type": "nominal", "scale": {"type": "band", "domain": ["PN","ID","PN+ID"], "paddingInner": 0.35, "paddingOuter": 0.347}}, "y": {"field": "hi", "type": "quantitative"}}},
        {"data": {"name": "bars"}, "transform": [{"filter": "datum.m === 'num' && datum.lc"}],
         "mark": {"type": "tick", "size": 30, "thickness": 3, "color": "black", "opacity": 1},
         "encoding": {"x": {"field": "g", "type": "nominal", "scale": {"type": "band", "domain": ["PN","ID","PN+ID"], "paddingInner": 0.35, "paddingOuter": 0.347}}, "y": {"field": "lo", "type": "quantitative"}}},
        {"data": {"name": "sig"}, "transform": [{"filter": "datum.m === 'num'"}],
         "mark": {"type": "rule", "strokeWidth": 3, "color": "black"},
         "encoding": {"x": {"field": "a", "type": "nominal", "scale": {"type": "band", "domain": ["PN","ID","PN+ID"], "paddingInner": 0.35, "paddingOuter": 0.347}}, "x2": {"field": "b"}, "y": {"field": "y", "type": "quantitative"}}},
        {"data": {"name": "sig"}, "transform": [{"filter": "datum.m === 'num' && datum.f === 'full'"}],
         "mark": {"type": "text", "fontSize": 44, "fontWeight": "bold", "align": "center", "baseline": "alphabetic", "dy": 13},
         "encoding": {"x": {"field": "a", "type": "nominal", "bandPosition": 2.039, "scale": {"type": "band", "domain": ["PN","ID","PN+ID"], "paddingInner": 0.35, "paddingOuter": 0.347}}, "y": {"field": "y", "type": "quantitative"}, "text": {"field": "s"}}},
        {"data": {"name": "sig"}, "transform": [{"filter": "datum.m === 'num' && datum.f === 'half'"}],
         "mark": {"type": "text", "fontSize": 44, "fontWeight": "bold", "align": "center", "baseline": "alphabetic", "dy": 13},
         "encoding": {"x": {"field": "a", "type": "nominal", "bandPosition": 1.269, "scale": {"type": "band", "domain": ["PN","ID","PN+ID"], "paddingInner": 0.35, "paddingOuter": 0.347}}, "y": {"field": "y", "type": "quantitative"}, "text": {"field": "s"}}}
      ]
    },
    {"width": 310.3, "height": 10, "data": {"values": [{"z": 0}]}, "mark": {"type": "point", "opacity": 0}, "encoding": {}},
    {
      "width": 300, "height": 299,
      "resolve": {"scale": {"xOffset": "independent"}},
      "layer": [
        {"data": {"name": "bars"}, "transform": [{"filter": "datum.m === 'cd19'"}],
         "mark": {"type": "bar", "fill": "white", "stroke": "black", "strokeWidth": 3},
         "encoding": {
           "x": {"field": "g", "type": "nominal", "scale": {"type": "band", "domain": ["PN","ID","PN+ID"], "paddingInner": 0.35, "paddingOuter": 0.347},
             "axis": {"title": null, "labelAngle": -45, "labelAlign": "right", "labelBaseline": "middle", "labelFontSize": 31, "labelPadding": 24, "labelOffset": 0, "tickSize": 17, "tickWidth": 3, "domainWidth": 3, "domainCap": "square"}},
           "y": {"field": "mean", "type": "quantitative", "scale": {"domain": [0, 10], "nice": false},
             "axis": {"title": "CD19⁺ B cell number (x 10⁶)", "values": [0, 2, 4, 6, 8, 10], "labelFontSize": 31, "labelPadding": 8, "tickSize": 15, "tickWidth": 3, "domainWidth": 3, "domainCap": "square", "titleFontSize": 31, "titlePadding": 24}}
         }},
        {"data": {"name": "pts"}, "transform": [{"filter": "datum.m === 'cd19'"}],
         "mark": {"type": "point", "filled": true, "opacity": 1},
         "encoding": {
           "x": {"field": "g", "type": "nominal", "scale": {"type": "band", "domain": ["PN","ID","PN+ID"], "paddingInner": 0.35, "paddingOuter": 0.347}},
           "xOffset": {"field": "c", "type": "quantitative", "scale": {"domain": [-1.559, 1.559], "nice": false, "zero": false}},
           "y": {"field": "v", "type": "quantitative"},
           "color": {"field": "g", "type": "nominal", "scale": {"domain": ["PN","ID","PN+ID"], "range": ["#0000ff","#ff0000","#008000"]}, "legend": null},
           "size": {"field": "g", "type": "ordinal", "scale": {"domain": ["PN","ID","PN+ID"], "range": [342, 342, 552]}, "legend": null}
         }},
        {"data": {"name": "bars"}, "transform": [{"filter": "datum.m === 'cd19'"}],
         "mark": {"type": "rule", "strokeWidth": 3, "color": "black"},
         "encoding": {"x": {"field": "g", "type": "nominal", "scale": {"type": "band", "domain": ["PN","ID","PN+ID"], "paddingInner": 0.35, "paddingOuter": 0.347}}, "y": {"field": "lo", "type": "quantitative"}, "y2": {"field": "hi"}}},
        {"data": {"name": "bars"}, "transform": [{"filter": "datum.m === 'cd19'"}],
         "mark": {"type": "tick", "size": 30, "thickness": 3, "color": "black", "opacity": 1},
         "encoding": {"x": {"field": "g", "type": "nominal", "scale": {"type": "band", "domain": ["PN","ID","PN+ID"], "paddingInner": 0.35, "paddingOuter": 0.347}}, "y": {"field": "hi", "type": "quantitative"}}},
        {"data": {"name": "bars"}, "transform": [{"filter": "datum.m === 'cd19' && datum.lc"}],
         "mark": {"type": "tick", "size": 30, "thickness": 3, "color": "black", "opacity": 1},
         "encoding": {"x": {"field": "g", "type": "nominal", "scale": {"type": "band", "domain": ["PN","ID","PN+ID"], "paddingInner": 0.35, "paddingOuter": 0.347}}, "y": {"field": "lo", "type": "quantitative"}}},
        {"data": {"name": "sig"}, "transform": [{"filter": "datum.m === 'cd19'"}],
         "mark": {"type": "rule", "strokeWidth": 3, "color": "black"},
         "encoding": {"x": {"field": "a", "type": "nominal", "scale": {"type": "band", "domain": ["PN","ID","PN+ID"], "paddingInner": 0.35, "paddingOuter": 0.347}}, "x2": {"field": "b"}, "y": {"field": "y", "type": "quantitative"}}},
        {"data": {"name": "sig"}, "transform": [{"filter": "datum.m === 'cd19' && datum.f === 'full'"}],
         "mark": {"type": "text", "fontSize": 44, "fontWeight": "bold", "align": "center", "baseline": "alphabetic", "dy": 13},
         "encoding": {"x": {"field": "a", "type": "nominal", "bandPosition": 2.039, "scale": {"type": "band", "domain": ["PN","ID","PN+ID"], "paddingInner": 0.35, "paddingOuter": 0.347}}, "y": {"field": "y", "type": "quantitative"}, "text": {"field": "s"}}},
        {"data": {"name": "sig"}, "transform": [{"filter": "datum.m === 'cd19' && datum.f === 'half'"}],
         "mark": {"type": "text", "fontSize": 44, "fontWeight": "bold", "align": "center", "baseline": "alphabetic", "dy": 13},
         "encoding": {"x": {"field": "a", "type": "nominal", "bandPosition": 1.269, "scale": {"type": "band", "domain": ["PN","ID","PN+ID"], "paddingInner": 0.35, "paddingOuter": 0.347}}, "y": {"field": "y", "type": "quantitative"}, "text": {"field": "s"}}},
        {"data": {"values": [{"s": "C."}]},
         "mark": {"type": "text", "fontSize": 72, "fontWeight": "bold", "align": "left", "baseline": "alphabetic"},
         "encoding": {"x": {"datum": "PN", "type": "nominal", "bandPosition": -4.159, "scale": {"type": "band", "domain": ["PN","ID","PN+ID"], "paddingInner": 0.35, "paddingOuter": 0.347}}, "y": {"datum": 10.59, "type": "quantitative"}, "text": {"field": "s"}}}
      ]
    }
  ], "spacing": 0, "bounds": "flush"}
]
}
